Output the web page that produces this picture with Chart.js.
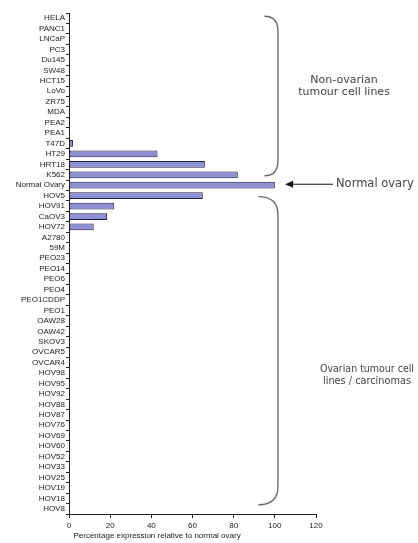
<!DOCTYPE html>
<html>
<head>
<meta charset="utf-8">
<script src="https://cdn.jsdelivr.net/npm/chart.js@4"></script>
<style>
  body { margin: 0; background: #fff; }
  #wrap { width: 418px; height: 543px; position: relative; }
</style>
</head>
<body>
<div id="wrap"><canvas id="chart"></canvas></div>
<script>
// cell lines, top to bottom
const cellLines = [
  'HELA', 'PANC1', 'LNCaP', 'PC3', 'Du145', 'SW48', 'HCT15', 'LoVo', 'ZR75', 'MDA',
  'PEA2', 'PEA1', 'T47D', 'HT29', 'HRT18', 'K562', 'Normal Ovary', 'HOV5', 'HOV91', 'CaOV3',
  'HOV72', 'A2780', '59M', 'PEO23', 'PEO14', 'PEO6', 'PEO4', 'PEO1CDDP', 'PEO1', 'OAW28',
  'OAW42', 'SKOV3', 'OVCAR5', 'OVCAR4', 'HOV98', 'HOV95', 'HOV92', 'HOV88', 'HOV87', 'HOV76',
  'HOV69', 'HOV60', 'HOV52', 'HOV33', 'HOV25', 'HOV19', 'HOV18', 'HOV8'
];
// % expression relative to normal ovary
const expression = [
  0, 0, 0, 0, 0, 0, 0, 0, 0, 0,
  0, 0, 2, 43, 66, 82, 100, 65, 22, 18.5,
  12, 0, 0, 0, 0, 0, 0, 0, 0, 0,
  0, 0, 0, 0, 0, 0, 0, 0, 0, 0,
  0, 0, 0, 0, 0, 0, 0, 0
];
const xTicks = [0, 20, 40, 60, 80, 100, 120];

const groupLabels = {
  upper: ['Non-ovarian', 'tumour cell lines'],
  lower: ['Ovarian tumour cell', 'lines / carcinomas'],
  arrow: 'Normal ovary'
};

const ctx = document.getElementById('chart').getContext('2d');

function brace(c, x0, x1, yTop, yBot, r) {
  c.beginPath();
  c.moveTo(x0, yTop);
  c.quadraticCurveTo(x1, yTop, x1, yTop + r);
  c.lineTo(x1, yBot - r);
  c.quadraticCurveTo(x1, yBot, x0, yBot);
  c.stroke();
}

// braces, arrow and group text on the right
const notes = {
  id: 'notes',
  afterDraw(chart) {
    const c = chart.ctx;
    const x = chart.scales.x;
    const y = chart.scales.y;
    const iK562 = cellLines.indexOf('K562');
    const iNorm = cellLines.indexOf('Normal Ovary');
    const iLast = cellLines.length - 1;
    c.save();
    c.strokeStyle = '#6a6a6a';
    c.lineWidth = 1.4;
    brace(c, x.getPixelForValue(95), x.getPixelForValue(101.5),
      y.getPixelForValue(0) - 2, y.getPixelForValue(iK562) + 1, 15);
    brace(c, x.getPixelForValue(92), x.getPixelForValue(101.5),
      y.getPixelForValue(iNorm + 1) + 1, y.getPixelForValue(iLast) - 4, 18);

    // arrow to normal ovary
    const ay = y.getPixelForValue(iNorm) - 1;
    const tip = x.getPixelForValue(105);
    c.strokeStyle = '#111';
    c.fillStyle = '#111';
    c.lineWidth = 1;
    c.beginPath();
    c.moveTo(tip + 5, ay);
    c.lineTo(333, ay);
    c.stroke();
    c.beginPath();
    c.moveTo(tip, ay);
    c.lineTo(tip + 8, ay - 3.5);
    c.lineTo(tip + 8, ay + 3.5);
    c.closePath();
    c.fill();

    c.font = '11.5px "DejaVu Sans"';
    c.fillStyle = '#444';
    c.textBaseline = 'middle';
    c.textAlign = 'left';
    c.fillText(groupLabels.arrow, 336, ay);

    c.font = '11px "DejaVu Sans"';
    c.textAlign = 'center';
    c.fillText(groupLabels.upper[0], 344, y.getPixelForValue(6) - 1);
    c.fillText(groupLabels.upper[1], 344, y.getPixelForValue(7) + 1);
    c.fillText(groupLabels.lower[0], 367, y.getPixelForValue(33) + 6, 94);
    c.fillText(groupLabels.lower[1], 367, y.getPixelForValue(35) - 2, 88);
    c.restore();
  }
};

new Chart(ctx, {
  type: 'bar',
  data: {
    labels: cellLines,
    datasets: [{
      data: expression,
      backgroundColor: '#8f8fd6',
      borderColor: '#1c1c3c',
      borderWidth: 1,
      borderSkipped: false,
      barPercentage: 0.65,
      categoryPercentage: 1
    }]
  },
  options: {
    indexAxis: 'y',
    responsive: true,
    maintainAspectRatio: false,
    animation: false,
    layout: { padding: { top: 13, right: 102, left: 0, bottom: 0 } },
    plugins: { legend: { display: false }, tooltip: { enabled: false } },
    scales: {
      x: {
        min: 0,
        max: 120,
        afterBuildTicks(s) { s.ticks = xTicks.map(v => ({ value: v })); },
        afterFit(s) { s.height = 29; },
        grid: { drawOnChartArea: false, tickLength: 4, color: '#222' },
        border: { color: '#222', width: 1 },
        ticks: { color: '#222', padding: 3, font: { family: 'Liberation Sans', size: 8 } },
        title: {
          display: true,
          align: 'start',
          text: '  Percentage expression relative to normal ovary',
          color: '#222',
          padding: { top: 0, bottom: 2 },
          font: { family: 'Liberation Sans', size: 8 }
        }
      },
      y: {
        afterFit(s) { s.width = 69; },
        grid: { drawOnChartArea: false, offset: true, tickLength: 3, color: '#222' },
        border: { color: '#222', width: 1 },
        ticks: {
          autoSkip: false,
          color: '#222',
          padding: 1,
          font: { family: 'Liberation Sans', size: 8 }
        }
      }
    }
  },
  plugins: [notes]
});
</script>
</body>
</html>
